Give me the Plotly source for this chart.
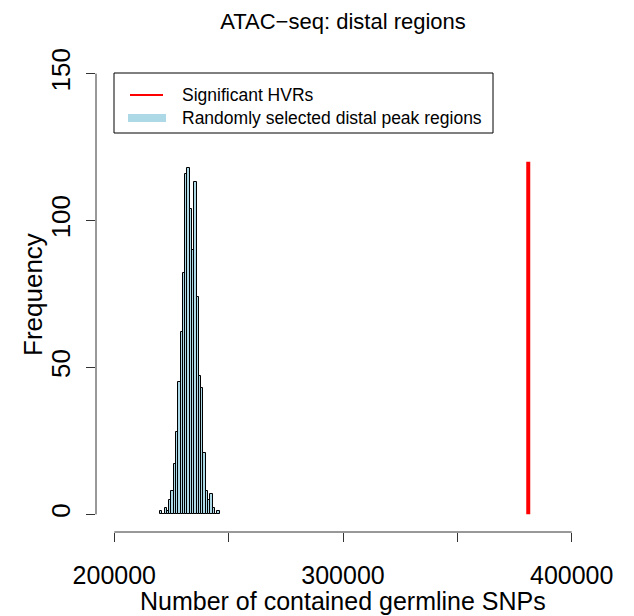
import plotly.graph_objects as go

# Histogram of germline SNP counts in randomly selected distal peak regions
bin_start = 220000
bin_width = 1000
counts = [1, 0, 2, 1, 5, 8, 17, 28, 45, 62, 82, 116, 118, 104, 90, 113,
          74, 47, 43, 21, 8, 5, 7, 2, 0, 1]

# Observed count for the significant HVRs
hvr_snps = 381000
hvr_line_top = 120

x_ticks = [200000, 250000, 300000, 350000, 400000]
x_tick_text = ["200000", "", "300000", "", "400000"]
y_ticks = [0, 50, 100, 150]

legend_labels = ["Significant HVRs", "Randomly selected distal peak regions"]
legend_colors = ["red", "lightblue"]
legend_widths = [2, 8]

x_range = [192000, 408000]
y_range = [-6, 156]

centers = [bin_start + bin_width * (i + 0.5) for i in range(len(counts))]

# plot area in pixels (used for placing the legend box)
W, H = 634, 616
L, R, T, B = 96, 44, 56, 84
pw, ph = W - L - R, H - T - B


def px(x):
    return (x - L) / pw


def py(y):
    return (H - B - y) / ph


fig = go.Figure()

fig.add_trace(go.Bar(
    x=centers, y=counts, width=bin_width,
    marker=dict(color="lightblue", line=dict(color="black", width=1)),
    showlegend=False, hoverinfo="x+y",
))

fig.add_trace(go.Scatter(
    x=[hvr_snps, hvr_snps], y=[0, hvr_line_top], mode="lines",
    line=dict(color="red", width=4), showlegend=False,
))

font = "Liberation Sans, Arial, Helvetica, sans-serif"

shapes = [
    # R-style axis lines spanning only the tick range
    dict(type="line", xref="x", yref="paper",
         x0=x_ticks[0], x1=x_ticks[-1], y0=0, y1=0,
         line=dict(color="#333", width=1)),
    dict(type="line", xref="paper", yref="y",
         x0=0, x1=0, y0=y_ticks[0], y1=y_ticks[-1],
         line=dict(color="#333", width=1)),
    # legend box
    dict(type="rect", xref="paper", yref="paper",
         x0=px(114), x1=px(493), y0=py(133), y1=py(73),
         line=dict(color="black", width=1), fillcolor="white", layer="above"),
]

annotations = [
    dict(text="Number of contained germline SNPs", xref="paper",
         yref="paper", x=0.5, y=py(601), xanchor="center",
         yanchor="middle", showarrow=False, font=dict(size=25)),
    dict(text="Frequency", xref="paper", yref="paper",
         x=px(33), y=0.5, textangle=-90, xanchor="center",
         yanchor="middle", showarrow=False, font=dict(size=26)),
]

row_y = [95, 118]
for label, color, lw, yy in zip(legend_labels, legend_colors, legend_widths, row_y):
    x0, x1 = (130, 163) if lw < 4 else (128, 166)
    shapes.append(dict(type="line", xref="paper", yref="paper",
                       x0=px(x0), x1=px(x1), y0=py(yy), y1=py(yy),
                       line=dict(color=color, width=lw), layer="above"))
    annotations.append(dict(text=label, xref="paper", yref="paper",
                            x=px(180), y=py(yy), xanchor="left",
                            yanchor="middle", showarrow=False,
                            font=dict(size=17.5)))

fig.update_layout(
    width=W, height=H,
    margin=dict(l=L, r=R, t=T, b=B),
    paper_bgcolor="white", plot_bgcolor="white",
    font=dict(family=font, color="black"),
    bargap=0,
    showlegend=False,
    title=dict(text="ATAC\u2212seq: distal regions", x=(L + pw / 2) / W,
               xanchor="center", y=1 - 21 / H, yanchor="middle",
               yref="container", font=dict(size=22)),
    xaxis=dict(range=x_range, tickvals=x_ticks, ticktext=x_tick_text,
               showgrid=False, zeroline=False, showline=False,
               ticks="outside", ticklen=9, tickcolor="#333",
               tickfont=dict(size=25), ticklabelstandoff=12),
    yaxis=dict(range=y_range, tickvals=y_ticks, showgrid=False,
               zeroline=False, showline=False, ticks="outside", ticklen=9,
               tickcolor="#333", tickangle=-90, tickfont=dict(size=26),
               ticklabelstandoff=6),
    shapes=shapes,
    annotations=annotations,
)

fig.write_html("out.html")
